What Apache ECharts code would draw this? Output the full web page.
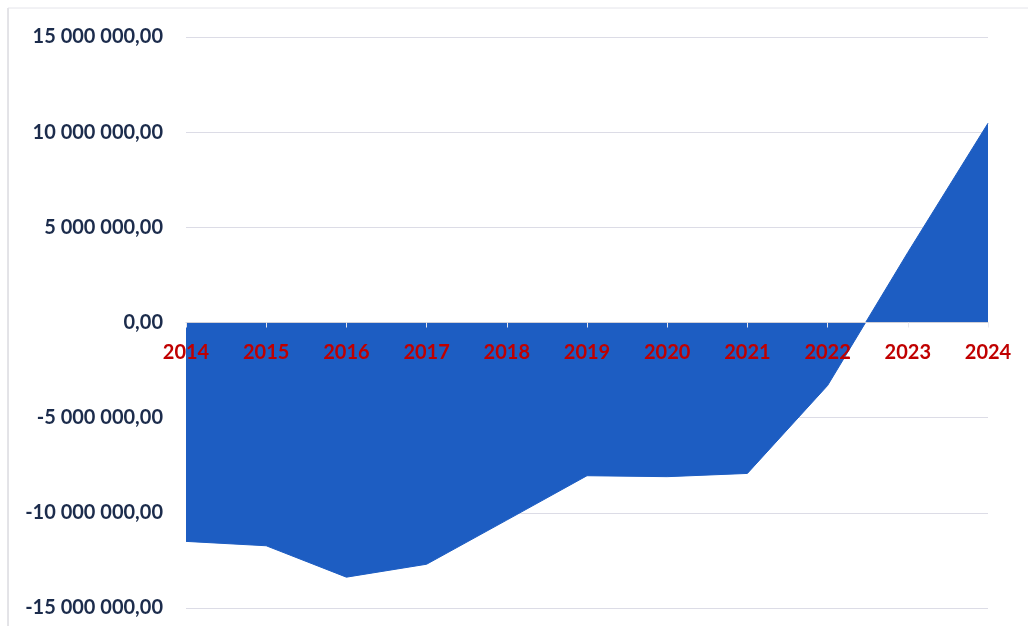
<!DOCTYPE html>
<html>
<head>
<meta charset="utf-8">
<script src="https://cdn.jsdelivr.net/npm/echarts@6/dist/echarts.min.js"></script>
<style>html,body{margin:0;padding:0;background:#fff;}#c{width:1028px;height:626px;}</style>
</head>
<body>
<div id="c"></div>
<script>
const categories = ['2014','2015','2016','2017','2018','2019','2020','2021','2022','2023','2024'];
const values = [-11500000,-11730000,-13380000,-12700000,-10380000,-8050000,-8100000,-7930000,-3310000,3680000,10470000];
const yTicks = [-15000000,-10000000,-5000000,0,5000000,10000000,15000000];

function fmt(v){
  const neg = v < 0;
  const s = Math.abs(Math.round(v)).toString().replace(/\B(?=(\d{3})+(?!\d))/g,' ');
  return (neg ? '-' : '') + s + ',00';
}

const GRID_TOP = 37, GRID_BOTTOM = 18, H = 626;
const yMin = yTicks[0], yMax = yTicks[yTicks.length-1];
const plotH = H - GRID_TOP - GRID_BOTTOM;
const zeroOffset = -plotH * (0 - yMin) / (yMax - yMin);

const chart = echarts.init(document.getElementById('c'), null, {renderer:'canvas'});
chart.setOption({
  backgroundColor:'#ffffff',
  animation:false,
  grid:{left:186, right:40, top:GRID_TOP, bottom:GRID_BOTTOM, containLabel:false, outerBoundsMode:'none'},
  graphic:[
    {type:'line', shape:{x1:8,y1:8,x2:8,y2:626}, style:{stroke:'#c8c8d0', lineWidth:1}},
    {type:'line', shape:{x1:8,y1:8,x2:1028,y2:8}, style:{stroke:'#e4e4ea', lineWidth:1}}
  ],
  xAxis:{
    type:'category',
    data:categories,
    boundaryGap:false,
    position:'bottom',
    offset:zeroOffset,
    axisLine:{onZero:false, lineStyle:{color:'#d0d0d8', width:1}},
    axisTick:{show:true, inside:false, length:5, lineStyle:{color:'#e8e8ee'}},
    axisLabel:{color:'#c00000', fontFamily:'Lato', fontWeight:'bold', fontSize:20, margin:20},
    splitLine:{show:false},
    z:5
  },
  yAxis:{
    type:'value',
    min:yMin, max:yMax, interval:5000000,
    axisLine:{show:false},
    axisTick:{show:false},
    axisLabel:{color:'#1c2c4c', fontFamily:'Lato', fontWeight:'bold', fontSize:20, margin:23,
      formatter:function(v){ return fmt(v); }},
    splitLine:{lineStyle:{color:'#dcdce6', width:1}}
  },
  series:[{
    type:'line',
    data:values,
    symbol:'none',
    lineStyle:{color:'#1d5dc2', width:1},
    areaStyle:{color:'#1d5dc2', opacity:1, origin:0},
    z:1
  }]
});
</script>
</body>
</html>
